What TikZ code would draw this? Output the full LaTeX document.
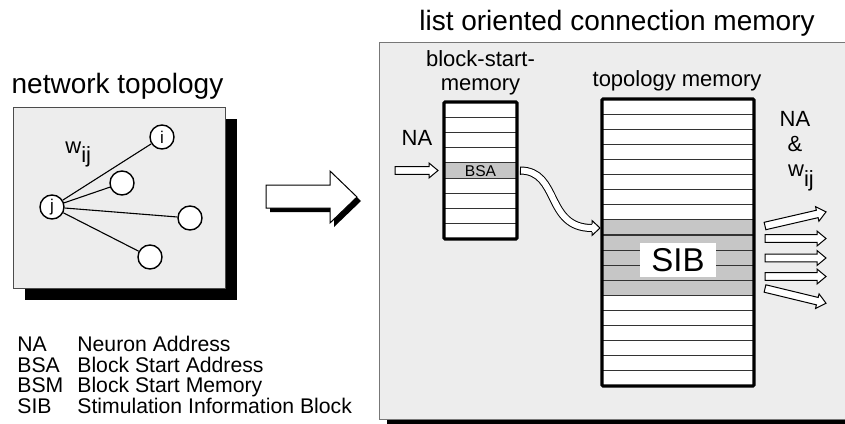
\documentclass[tikz,border=0pt]{standalone}
\usepackage{fontspec}
\setmainfont{Liberation Sans}
\definecolor{panel}{HTML}{EDEDED}
\definecolor{rowgray}{HTML}{C6C6C6}
\definecolor{frame}{HTML}{777777}
\tikzset{
  title/.style={font=\fontsize{14}{16}\selectfont, anchor=base, inner sep=0pt},
  lbl/.style={font=\fontsize{11}{13}\selectfont, anchor=base, inner sep=0pt},
  legend/.style={font=\fontsize{10.6}{12}\selectfont, anchor=base west, inner sep=0pt},
  neuron/.style={circle, draw, fill=white, line width=0.7pt, minimum size=12pt,
    inner sep=0pt, font=\fontsize{8.5}{9}\selectfont},
  synapse/.style={line width=0.55pt},
  hollow/.style={draw=black, fill=white, line width=0.5pt, line join=miter},
  rowline/.style={line width=0.55pt, black!80},
  memframe/.style={line width=1.6pt, draw=black, rounded corners=0.6pt},
  memcell/.style={fill=white, inner sep=0pt, outer sep=0pt},
  % hollow straight arrow of total length #1, pointing along the local x axis
  harrow/.pic={
    \draw[hollow] (0,-3.8) -- (#1-9,-3.8) -- (#1-9,-7.5) -- (#1,0)
      -- (#1-9,7.5) -- (#1-9,3.8) -- (0,3.8) -- cycle;
  }
}
\begin{document}
\begin{tikzpicture}[x=0.5pt,y=-0.5pt]
\useasboundingbox (0,0) rectangle (845,423);
\clip (0,0) rectangle (845,423);

% ---------- network topology ----------
\fill[black] (25,119) rectangle (237,300);
\draw[fill=panel, draw=black!70, line width=0.5pt] (13,107) rectangle (225,288);
\node[title] (nettitle) at (117.5,93) {network topology};

\node[neuron] (i)  at (162,137) {i};
\node[neuron] (n2) at (122,183) {};
\node[neuron] (j)  at (52,207)  {j};
\node[neuron] (n4) at (190,218) {};
\node[neuron] (n5) at (150,257) {};
\draw[synapse] (j) -- (i);
\draw[synapse] (j) -- (n2);
\draw[synapse] (j) -- (n4);
\draw[synapse] (j) -- (n5);
\node[lbl, anchor=base west] (wleft) at (65,153) {w\raisebox{-0.45em}{ij}};

% ---------- transformation arrow ----------
\fill[black] (270,189) -- (334,189) -- (334,175) -- (361,201) -- (334,227)
  -- (334,212) -- (270,212) -- cycle;
\draw[hollow] (266,185) -- (330,185) -- (330,171) -- (357,197) -- (330,223)
  -- (330,208) -- (266,208) -- cycle;

% ---------- legend ----------
\node[legend] (lgNA)  at (17,351)   {NA};
\node[legend] (lgBSA) at (17,372)   {BSA};
\node[legend] (lgBSM) at (17,392.7) {BSM};
\node[legend] (lgSIB) at (17,413.3) {SIB};
\node[legend] (txNA)  at (77,351)   {Neuron Address};
\node[legend] (txBSA) at (77,372)   {Block Start Address};
\node[legend] (txBSM) at (77,392.7) {Block Start Memory};
\node[legend] (txSIB) at (77,413.3) {Stimulation Information Block};

% ---------- connection memory panel ----------
\fill[black] (387,50) rectangle (880,440);
\draw[fill=panel, draw=frame, line width=0.5pt] (379,42) rectangle (870,419);
\node[title] (memtitle) at (617,31) {list oriented connection memory};

% block-start-memory: 9 cells
\node[lbl] (bsmA) at (480.5,66.5) {block-start-};
\node[lbl] (bsmB) at (480.5,90)   {memory};
\node[memcell, minimum width=36.5pt, minimum height=68.5pt] (bsm) at (480.5,170.5) {};
\fill[rowgray] (444,{102+4*137/9}) rectangle (517,{102+5*137/9});
\foreach \k in {1,...,8}
  \draw[rowline] (444,{102+\k*137/9}) -- (517,{102+\k*137/9});
\draw[memframe] (bsm.north west) rectangle (bsm.south east);
\node[inner sep=0pt, font=\fontsize{7.8}{8}\selectfont] (bsa) at (480.5,171) {BSA};

% neuron address into the block-start-memory
\path (395,170.5) pic {harrow=43};
\node[lbl] (nain) at (417,145) {NA};

% topology memory: 19 cells, SIB occupies five of them
\node[lbl] (tmlabel) at (677,86) {topology memory};
\node[memcell, minimum width=76pt, minimum height=143.5pt] (tm) at (678,242.5) {};
\fill[rowgray] (602,{99+8*287/19}) rectangle (754,{99+13*287/19});
\foreach \k in {1,...,18}
  \draw[rowline] (602,{99+\k*287/19}) -- (754,{99+\k*287/19});
\draw[memframe] (tm.north west) rectangle (tm.south east);
\node[fill=white, inner sep=0pt, minimum width=38pt, minimum height=17pt,
  font=\fontsize{16.5}{18}\selectfont] (sib) at (678,260) {SIB};

% block start address pointing into the topology memory
\coordinate (bsaout) at (520,170.5);
\coordinate (sibin) at (592,228);
\draw[line width=4pt, black] (bsaout) .. controls (560,170.5) and (545,228) .. (sibin);
\draw[line width=3pt, white] (bsaout) .. controls (560,170.5) and (545,228) .. (sibin);
\draw[line width=0.5pt] (520,166.5) -- (520,174.5);
\draw[hollow] (592,224) -- (592,220.5) -- (600,228) -- (592,235.5) -- (592,232);

% outputs: neuron addresses and weights
\node[lbl] (naout) at (795,126.7) {NA};
\node[lbl] (amp)   at (795,151.7) {\&};
\node[lbl] (wright) at (801,176.7) {w\raisebox{-0.45em}{ij}};
\path (765,226)   pic[rotate=13]    {harrow=62.6};
\path (765,238.5) pic               {harrow=61};
\path (765,258)   pic               {harrow=61};
\path (765,276.5) pic               {harrow=61};
\path (765,288.5) pic[rotate=-13.6] {harrow=62.8};
\end{tikzpicture}
\end{document}
